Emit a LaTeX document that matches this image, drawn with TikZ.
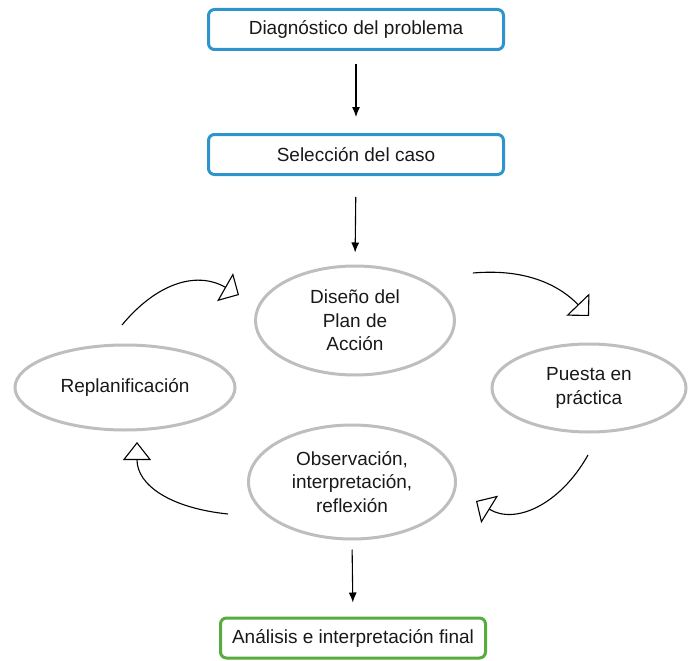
\documentclass[tikz,border=0pt]{standalone}
\usepackage{fontspec}
\setmainfont{Liberation Sans}
\usetikzlibrary{arrows.meta,shapes.geometric}
\definecolor{boxblue}{RGB}{45,148,205}
\definecolor{boxgreen}{RGB}{88,172,62}
\definecolor{ellgray}{RGB}{190,190,190}
\definecolor{txt}{RGB}{25,25,25}
\begin{document}
\begin{tikzpicture}[x=1pt,y=-1pt,
  every node/.style={text=txt,font=\fontsize{19}{23.5}\selectfont},
  stepbox/.style={draw=boxblue,line width=3pt,rounded corners=6pt,minimum width=295pt,minimum height=40pt,inner sep=0pt},
  finalbox/.style={stepbox,draw=boxgreen,minimum width=265pt},
  cyc/.style={ellipse,draw=ellgray,line width=3pt,align=center,inner sep=0pt},
  down/.style={line width=1.1pt,-{Latex[length=10pt,width=8pt]}},
  loop/.style={line width=1.1pt,-{Triangle[open,length=16pt,width=32pt,line width=1.1pt]}}
]
\useasboundingbox (0,0) rectangle (688,661);

\node[stepbox] (diag) at (356,29.5) {Diagnóstico del problema};
\node[stepbox] (sel) at (356,154.5) {Selección del caso};
\node[cyc,minimum width=199pt,minimum height=109pt] (dis) at (355,320.5) {Diseño del\\Plan de\\Acción};
\node[cyc,minimum width=220pt,minimum height=85pt] (rep) at (125,387.5) {Replanificación};
\node[cyc,minimum width=194pt,minimum height=88pt] (pue) at (589,388) {Puesta en\\práctica};
\node[cyc,minimum width=207pt,minimum height=114pt] (obs) at (352,482) {Observación,\\interpretación,\\reflexión};
\node[finalbox] (fin) at (353,638) {Análisis e interpretación final};

\draw[down,shorten <=13pt,shorten >=16pt] (diag.south) -- (sel.north);
\draw[down,shorten <=21pt,shorten >=12pt] (sel.south) -- (dis.north);
\draw[down,shorten <=9pt,shorten >=14pt] (obs.south) -- (fin.north);

\coordinate (a1s) at (122,325);
\coordinate (a1e) at (239,295);
\coordinate (a2s) at (473,273);
\coordinate (a2e) at (589,316);
\coordinate (a3s) at (588,455);
\coordinate (a3e) at (476,501);
\coordinate (a4s) at (228,514);
\coordinate (a4e) at (137,442);

\draw[loop] (a1s) .. controls (155,285) and (195,270) .. (a1e);
\draw[loop] (a2s) .. controls (530,268) and (562,288) .. (a2e);
\draw[loop] (a3s) .. controls (560,505) and (515,525) .. (a3e);
\draw[line width=1.1pt,-{Triangle[open,length=18pt,width=28pt,line width=1.1pt]}] (a4s) .. controls (170,508) and (137,485) .. (a4e);
\end{tikzpicture}
\end{document}
